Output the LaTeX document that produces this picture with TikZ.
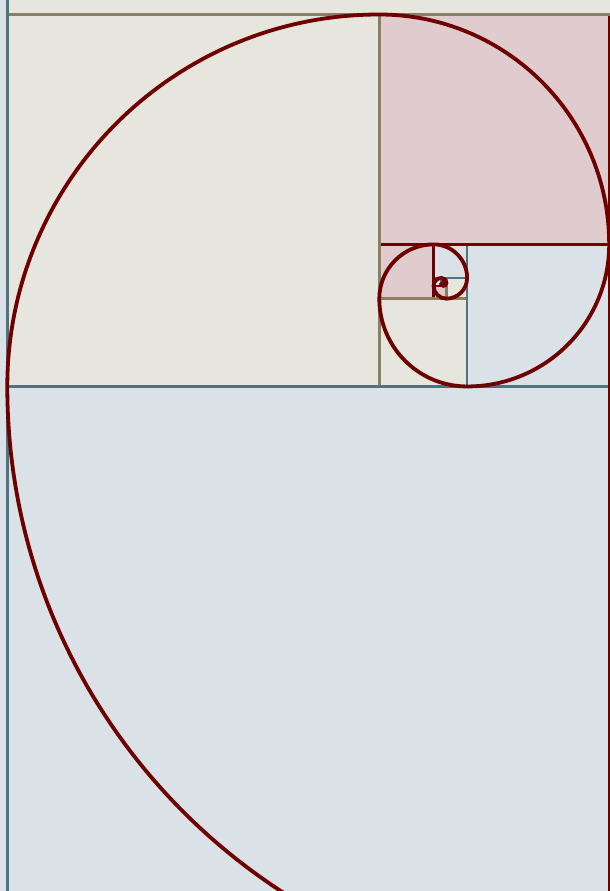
\documentclass[tikz,border=0pt]{standalone}
\definecolor{beigefill}{RGB}{230,230,222}
\definecolor{pinkfill}{RGB}{224,204,206}
\definecolor{bluefill}{RGB}{218,226,232}
\definecolor{beigeline}{RGB}{138,128,95}
\definecolor{pinkline}{RGB}{110,0,0}
\definecolor{blueline}{RGB}{79,115,128}
\definecolor{spiralcol}{RGB}{110,0,0}
\tikzset{
  beigesq/.style={fill=beigefill},
  pinksq/.style={fill=pinkfill},
  bluesq/.style={fill=bluefill},
  beigeedge/.style={draw=beigeline,line width=2.4pt},
  pinkedge/.style={draw=pinkline,line width=2.4pt},
  blueedge/.style={draw=blueline,line width=2.4pt},
  spiral/.style={draw=spiralcol,line width=3.8pt}
}
\begin{document}
\begin{tikzpicture}[x=1pt,y=1pt]
\useasboundingbox (0,0) rectangle (610,891);
\clip (0,0) rectangle (610,891);
% square corners (y measured upward)
\coordinate (Am3) at (-2542.4,-97.4);  \coordinate (Bm3) at (7.3,2452.3);
\coordinate (Am2) at (7.3,876.5);      \coordinate (Bm2) at (1583.1,2452.3);
\coordinate (Am1) at (609.2,-97.4);    \coordinate (Bm1) at (1583.1,876.5);
\coordinate (A0) at (7.3,-97.4);       \coordinate (B0) at (609.2,504.5);
\coordinate (A1) at (7.3,504.5);       \coordinate (B1) at (379.3,876.5);
\coordinate (A2) at (379.3,646.6);     \coordinate (B2) at (609.2,876.5);
\coordinate (A3) at (467.1,504.5);     \coordinate (B3) at (609.2,646.6);
\coordinate (A4) at (379.3,504.5);     \coordinate (B4) at (467.1,592.3);
\coordinate (A5) at (379.3,592.3);     \coordinate (B5) at (433.6,646.6);
\coordinate (A6) at (433.6,613.1);     \coordinate (B6) at (467.1,646.6);
\coordinate (A7) at (446.4,592.3);     \coordinate (B7) at (467.1,613.1);
\coordinate (A8) at (433.6,592.3);     \coordinate (B8) at (446.4,605.1);
\coordinate (A9) at (433.6,605.1);     \coordinate (B9) at (441.5,613.1);
\coordinate (A10) at (441.5,608.2);    \coordinate (B10) at (446.4,613.1);
\coordinate (A11) at (443.3,605.1);    \coordinate (B11) at (446.4,608.2);
\coordinate (A12) at (441.5,605.1);    \coordinate (B12) at (443.3,606.9);
% fills
\path[bluesq]  (Am3) rectangle (Bm3);
\path[beigesq] (Am2) rectangle (Bm2);
\path[pinksq]  (Am1) rectangle (Bm1);
\path[bluesq]  (A0) rectangle (B0);
\path[beigesq] (A1) rectangle (B1);
\path[pinksq]  (A2) rectangle (B2);
\path[bluesq]  (A3) rectangle (B3);
\path[beigesq] (A4) rectangle (B4);
\path[pinksq]  (A5) rectangle (B5);
\path[bluesq]  (A6) rectangle (B6);
\path[beigesq] (A7) rectangle (B7);
\path[pinksq]  (A8) rectangle (B8);
\path[bluesq]  (A9) rectangle (B9);
\path[beigesq] (A10) rectangle (B10);
\path[pinksq]  (A11) rectangle (B11);
\path[bluesq]  (A12) rectangle (B12);
% borders, smallest first
\path[line width=1pt,draw=pinkline]  (A11) rectangle (B11);
\path[line width=1pt,draw=blueline]  (A12) rectangle (B12);
\path[line width=1.5pt,draw=beigeline] (A10) rectangle (B10);
\path[blueedge]  (A9) rectangle (B9);
\path[pinkedge]  (A8) rectangle (B8);
\path[beigeedge] (A7) rectangle (B7);
\path[blueedge]  (A6) rectangle (B6);
\path[pinkedge]  (A5) rectangle (B5);
\path[beigeedge] (A4) rectangle (B4);
\path[blueedge]  (A3) rectangle (B3);
\path[pinkedge]  (A2) rectangle (B2);
\path[beigeedge] (A1) rectangle (B1);
\path[blueedge]  (A0) rectangle (B0);
\path[pinkedge]  (Am1) rectangle (Bm1);
\path[beigeedge] (Am2) rectangle (Bm2);
\path[blueedge]  (Am3) rectangle (Bm3);
% spiral
\coordinate (S0) at (609.2,-97.4);
\draw[spiral] (S0)
  \foreach \i [evaluate=\i as \r using 601.9*0.6180340^\i,
               evaluate=\i as \a using -90-90*\i] in {0,...,16} {
    arc[start angle=\a, delta angle=-90, radius=\r]
  };
\end{tikzpicture}
\end{document}
